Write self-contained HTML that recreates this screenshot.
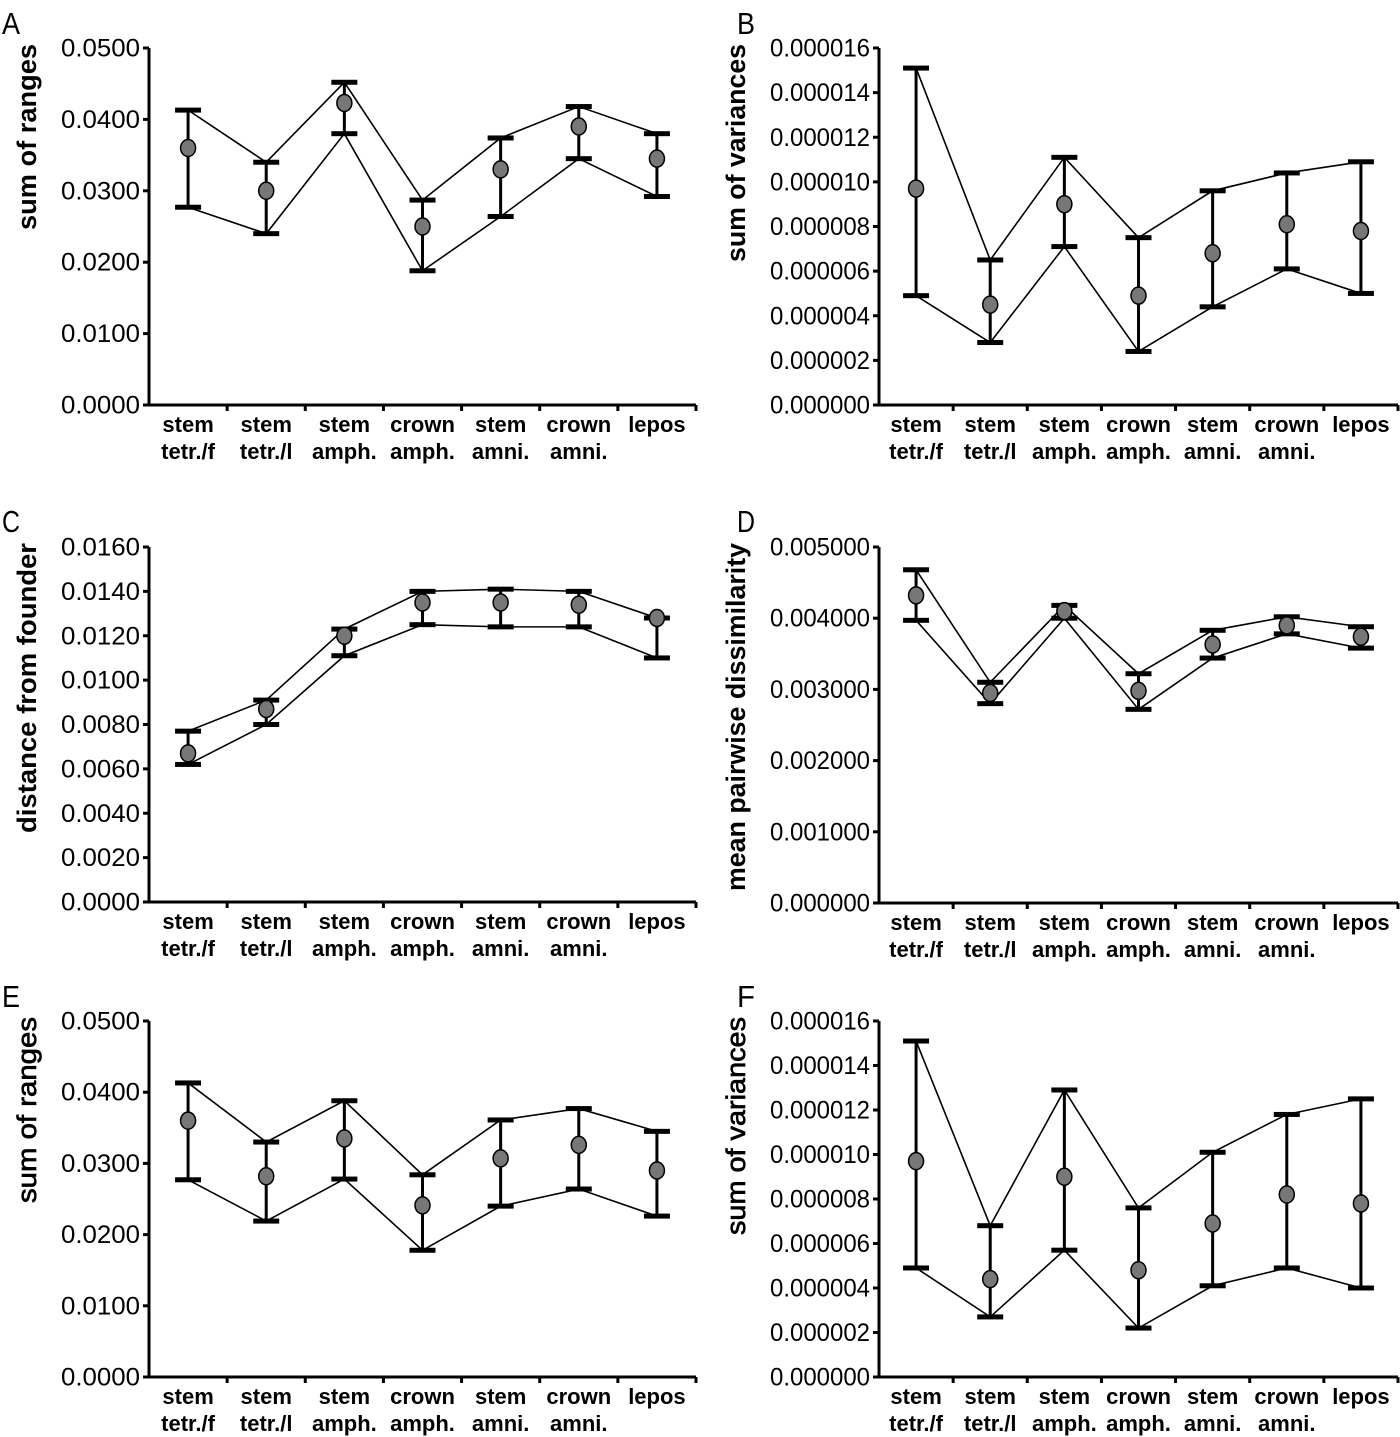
<!DOCTYPE html>
<html><head><meta charset="utf-8">
<style>
html,body{margin:0;padding:0;background:#fff;}
svg{display:block;font-family:"Liberation Sans",sans-serif;}
</style></head>
<body>
<svg id="fig" width="1400" height="1437" viewBox="0 0 1400 1437" xmlns="http://www.w3.org/2000/svg"></svg>
<script>
const categoriesTop = ["stem","stem","stem","crown","stem","crown","lepos"];
const categoriesBottom = ["tetr./f","tetr./l","amph.","amph.","amni.","amni.",""];

const aMean = [0.0360,0.0300,0.0423,0.0250,0.0330,0.0390,0.0345];
const aUpper = [0.0413,0.0340,0.0452,0.0287,0.0374,0.0418,0.0380];
const aLower = [0.0277,0.0240,0.0380,0.0188,0.0264,0.0345,0.0292];
const aTicks = ["0.0000","0.0100","0.0200","0.0300","0.0400","0.0500"];

const bMean = [9.7e-6,4.5e-6,9.0e-6,4.9e-6,6.8e-6,8.1e-6,7.8e-6];
const bUpper = [15.1e-6,6.5e-6,11.1e-6,7.5e-6,9.6e-6,10.4e-6,10.9e-6];
const bLower = [4.9e-6,2.8e-6,7.1e-6,2.4e-6,4.4e-6,6.1e-6,5.0e-6];
const bTicks = ["0.000000","0.000002","0.000004","0.000006","0.000008","0.000010","0.000012","0.000014","0.000016"];

const cMean = [0.0067,0.0087,0.0120,0.0135,0.0135,0.0134,0.0128];
const cUpper = [0.0077,0.0091,0.0123,0.0140,0.0141,0.0140,0.0128];
const cLower = [0.0062,0.0080,0.0111,0.0125,0.0124,0.0124,0.0110];
const cTicks = ["0.0000","0.0020","0.0040","0.0060","0.0080","0.0100","0.0120","0.0140","0.0160"];

const dMean = [0.00432,0.00295,0.00410,0.00298,0.00363,0.00390,0.00374];
const dUpper = [0.00468,0.00310,0.00418,0.00322,0.00383,0.00402,0.00388];
const dLower = [0.00397,0.00280,0.00400,0.00272,0.00344,0.00378,0.00358];
const dTicks = ["0.000000","0.001000","0.002000","0.003000","0.004000","0.005000"];

const eMean = [0.0360,0.0282,0.0335,0.0241,0.0307,0.0326,0.0290];
const eUpper = [0.0413,0.0330,0.0388,0.0284,0.0361,0.0377,0.0345];
const eLower = [0.0277,0.0219,0.0278,0.0178,0.0240,0.0264,0.0226];
const eTicks = ["0.0000","0.0100","0.0200","0.0300","0.0400","0.0500"];

const fMean = [9.7e-6,4.4e-6,9.0e-6,4.8e-6,6.9e-6,8.2e-6,7.8e-6];
const fUpper = [15.1e-6,6.8e-6,12.9e-6,7.6e-6,10.1e-6,11.8e-6,12.5e-6];
const fLower = [4.9e-6,2.7e-6,5.7e-6,2.2e-6,4.1e-6,4.9e-6,4.0e-6];
const fTicks = ["0.000000","0.000002","0.000004","0.000006","0.000008","0.000010","0.000012","0.000014","0.000016"];

const NS = "http://www.w3.org/2000/svg";
const svg = document.getElementById("fig");
function mk(tag, attrs, parent){
  const e = document.createElementNS(NS, tag);
  for (const k in attrs) e.setAttribute(k, attrs[k]);
  (parent||svg).appendChild(e);
  return e;
}

function panel(letter, lx, ly, x0, x1, yTop, yBot, ticks, yMax, title, titleLen, titleBold, mean, upper, lower, name){
  const g = mk("g", {});
  
  
  const y = v => yBot - (v / yMax) * (yBot - yTop);
  const n = categoriesTop.length;
  const step = (x1 - x0) / n;
  const x = i => x0 + step * (i + 0.5);

  const lt = mk("text", {x: lx, y: ly, "font-size": 31, fill: "#000", textLength: 18, lengthAdjust: "spacingAndGlyphs"}, g);
  lt.textContent = letter;
  
  

  const ya = mk("line", {x1: x0, y1: yTop, x2: x0, y2: yBot + 1.5, stroke: "#000", "stroke-width": 3}, g);
  
  
  const xa = mk("line", {x1: x0 - 1.5, y1: yBot, x2: x1, y2: yBot, stroke: "#000", "stroke-width": 3}, g);
  
  

  const tw = ticks[0].length === 8 ? 100 : 79;
  ticks.forEach((t, k) => {
    const ty = yBot - k * (yBot - yTop) / (ticks.length - 1);
    const tl = mk("line", {x1: x0 - 6, y1: ty, x2: x0, y2: ty, stroke: "#000", "stroke-width": 3}, g);
    
    
    const tt = mk("text", {x: x0 - 9 - tw, y: ty + 8.5, "font-size": 25, fill: "#000", textLength: tw, lengthAdjust: "spacingAndGlyphs"}, g);
    tt.textContent = t;
    
    
  });
  for (let i = 1; i <= n; i++) {
    const xx = x0 + step * i;
    const tk = mk("line", {x1: xx, y1: yBot, x2: xx, y2: yBot + 6, stroke: "#000", "stroke-width": 3}, g);
    
    
  }
  categoriesTop.forEach((c, i) => {
    const t1 = mk("text", {x: x(i), y: yBot + 27, "font-size": 22, "font-weight": "bold", "text-anchor": "middle", fill: "#000"}, g);
    t1.textContent = c;
    
    
    if (categoriesBottom[i]) {
      const t2 = mk("text", {x: x(i), y: yBot + 54, "font-size": 22, "font-weight": "bold", "text-anchor": "middle", fill: "#000"}, g);
      t2.textContent = categoriesBottom[i];
      
      
    }
  });
  const tx = x0 - tw - 34;
  const cy = yTop - 4;
  const attrs = {x: tx, y: cy, "font-size": 27, "font-weight": titleBold ? "bold" : "normal", "text-anchor": "end", fill: "#000", textLength: titleLen, lengthAdjust: "spacingAndGlyphs", transform: `rotate(-90 ${tx} ${cy})`};
  if (!titleBold) { attrs.stroke = "#000"; attrs["stroke-width"] = 0.7; }
  const yt = mk("text", attrs, g);
  yt.textContent = title;
  
  

  const up = upper.map((v, i) => `${x(i)},${y(v)}`).join(" ");
  const lo = lower.map((v, i) => `${x(i)},${y(v)}`).join(" ");
  const ul = mk("polyline", {points: up, fill: "none", stroke: "#000", "stroke-width": 1.6}, g);
  
  
  const ll = mk("polyline", {points: lo, fill: "none", stroke: "#000", "stroke-width": 1.6}, g);
  
  

  mean.forEach((m, i) => {
    const eb = mk("line", {x1: x(i), y1: y(upper[i]), x2: x(i), y2: y(lower[i]), stroke: "#000", "stroke-width": 3}, g);
    
    
    [upper[i], lower[i]].forEach(v => {
      const cap = mk("rect", {x: x(i) - 13, y: y(v) - 2.5, width: 26, height: 5, fill: "#000"}, g);
      
      
    });
    const pt = mk("ellipse", {cx: x(i), cy: y(m), rx: 7.5, ry: 8.5, fill: "#777", stroke: "#000", "stroke-width": 1.5}, g);
    
    
  });
}

panel("A", 2, 34, 149, 696, 48, 405, aTicks, 0.05, "sum of ranges", 186, true, aMean, aUpper, aLower, "panel-a");
panel("B", 737, 34, 879, 1398, 48, 405, bTicks, 16e-6, "sum of variances", 218, true, bMean, bUpper, bLower, "panel-b");
panel("C", 2, 532, 149, 696, 547, 902, cTicks, 0.016, "distance from founder", 290, true, cMean, cUpper, cLower, "panel-c");
panel("D", 737, 532, 879, 1398, 547, 903, dTicks, 0.005, "mean pairwise dissimilarity", 348, true, dMean, dUpper, dLower, "panel-d");
panel("E", 2, 1007, 149, 696, 1021, 1377, eTicks, 0.05, "sum of ranges", 186, false, eMean, eUpper, eLower, "panel-e");
panel("F", 737, 1007, 879, 1398, 1021, 1377, fTicks, 16e-6, "sum of variances", 218, false, fMean, fUpper, fLower, "panel-f");
</script>
</body></html>
